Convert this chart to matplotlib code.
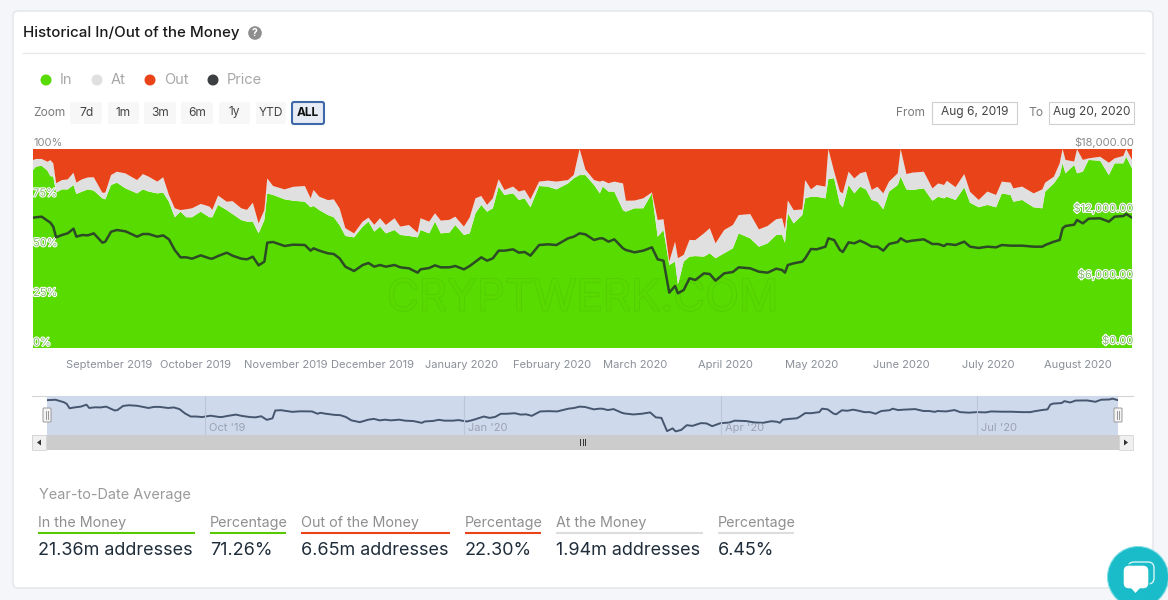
import numpy as np
import pandas as pd
import matplotlib
matplotlib.use("Agg")
import matplotlib.pyplot as plt
import matplotlib.patheffects as pe
from matplotlib.patches import FancyBboxPatch, Rectangle, Circle, Polygon

plt.rcParams['font.family'] = ['Inter', 'DejaVu Sans']

start_date = "2019-08-06"
end_date = "2020-08-20"
days = [0,1,3,5,6,7,8,10,12,14,15,17,19,21,24,25,27,29,32,36,38,40,43,45,47,49,51,53,55,58,61,62,64,67,69,72,74,76,78,80,81,83,87,90,94,96,97,99,102,104,106,108,111,114,116,118,120,122,125,
        127,130,133,134,137,139,141,144,146,149,151,153,155,157,159,161,163,166,168,170,172,175,178,181,185,187,189,191,194,196,197,199,201,204,205,208,211,214,216,218,220,222,223,225,227,229,232,234,236,239,242,244,248,251,254,
        257,259,260,261,263,266,267,269,271,274,275,277,279,280,282,284,286,288,290,292,294,296,299,300,302,304,308,311,313,315,316,319,322,324,327,330,333,335,338,339,342,346,349,350,353,355,356,357,360,361,363,365,369,372,374,377,378,380]
in_pct = [89.4,91.1,91.6,89.1,86.4,86.1,78.1,79.7,79.7,81.9,77.4,78.6,79.7,79.1,75.2,74.7,81.9,83.1,80.2,77.7,79.7,78.6,77.7,78.1,73.5,65.7,68.5,65.7,65.7,68.5,65.7,65.7,71.9,69.3,67.3,64.3,63.5,63.5,57.6,64.3,77.7,76.9,74.7,74.0,73.5,70.7,71.4,69.3,66.8,65.7,61.8,56.3,55.6,61.0,63.5,58.5,61.0,57.6,59.3,
          56.8,56.3,55.6,59.3,57.6,63.5,57.6,58.0,61.8,56.8,57.6,67.7,71.9,68.5,70.2,81.1,76.9,77.7,74.4,75.2,70.7,81.4,81.1,79.7,82.7,85.3,86.9,86.9,81.9,77.7,81.1,78.6,78.6,69.3,68.5,70.2,70.2,77.7,55.9,59.3,41.7,43.4,31.7,43.4,45.9,46.2,45.9,47.6,45.1,47.6,50.1,57.6,55.1,50.9,52.6,
          56.8,56.8,52.9,67.7,62.6,66.8,75.2,76.0,76.0,75.2,84.8,85.3,72.4,70.7,81.9,77.7,81.1,79.7,74.4,73.5,69.7,78.6,81.9,86.1,79.7,79.4,80.2,74.0,76.0,75.2,76.0,74.4,80.7,73.0,70.7,71.9,70.7,77.7,76.9,73.5,74.4,70.7,70.2,78.6,82.7,86.9,92.8,87.8,92.0,87.8,88.6,94.5,94.1,86.9,92.8,92.8,96.1,90.3]
at_pct = [5.0,3.9,3.4,4.5,8.0,6.7,4.7,4.7,5.0,6.2,5.7,6.2,6.0,6.7,2.8,3.4,5.0,5.5,7.5,6.7,7.7,7.5,5.9,7.7,3.4,4.5,0.8,4.0,4.5,3.9,5.4,3.7,4.7,4.2,6.5,5.9,5.9,9.5,5.0,5.0,7.5,4.5,5.0,7.0,7.9,4.5,8.0,6.7,7.5,9.0,8.4,3.9,2.0,2.5,2.0,3.4,4.2,4.2,5.9,
          4.2,5.5,2.3,5.9,5.9,4.2,6.4,6.4,4.2,4.2,8.0,7.5,4.5,3.4,5.0,3.7,2.5,3.4,4.2,4.2,4.0,2.2,3.0,3.9,1.7,1.7,13.1,2.8,2.5,5.9,3.0,4.2,5.0,13.4,5.5,3.9,5.0,0.5,8.4,5.4,1.7,10.0,13.4,3.4,8.4,8.0,11.7,12.6,7.5,11.7,11.7,9.2,12.2,8.7,8.7,
          7.9,8.4,6.7,6.4,6.7,2.8,9.2,3.7,5.9,5.9,15.2,3.4,6.2,7.0,6.7,7.5,6.7,8.9,5.0,7.5,8.0,5.0,5.9,13.9,7.7,8.7,8.4,6.2,6.7,6.7,8.0,6.4,6.7,5.5,3.7,6.7,6.2,5.9,6.2,6.7,6.7,7.0,9.5,4.5,3.4,5.9,7.2,6.7,1.7,12.1,5.9,0.8,2.0,6.2,2.5,3.7,3.9,4.2]
price = [11789,11819,11879,11517,11336,10975,10010,10221,10372,10794,10070,10221,10191,10372,9527,9618,10522,10673,10553,10070,10311,10311,10070,10191,9829,8864,8201,8201,8080,8382,8110,8080,8321,8623,8352,8080,8020,8261,7477,7809,9527,9588,9226,9347,9316,8804,9015,8804,8563,8502,8110,7357,6965,7507,7688,7357,7507,7357,7507,
         7296,7206,6814,7115,7236,7477,7296,7296,7417,7115,7417,7809,8201,7899,8110,8804,8804,8924,8623,8683,8352,9316,9377,9316,9919,10070,10372,10281,9769,9919,9919,9618,9829,9015,8864,8653,8804,9105,8020,7899,5005,5608,4945,5246,6301,6151,6754,6693,6090,6754,6874,7296,7206,6904,6814,
         7176,7055,6814,7507,7658,7809,8110,8955,8924,9166,9919,9769,8864,8683,9558,9467,9708,9467,9166,9166,8804,9407,9588,9919,9618,9708,9829,9407,9407,9226,9407,9316,9618,9166,9045,9166,9105,9316,9256,9256,9256,9166,9166,9316,9618,9769,10824,11035,11155,11578,11276,11698,11728,11427,11879,11939,12120,11789]
month_ticks = ["2019-09-01","2019-10-01","2019-11-01","2019-12-01","2020-01-01","2020-02-01","2020-03-01","2020-04-01","2020-05-01","2020-06-01","2020-07-01","2020-08-01"]
month_labels = ["September 2019","October 2019","November 2019","December 2019","January 2020","February 2020","March 2020","April 2020","May 2020","June 2020","July 2020","August 2020"]
pct_ticks = [0, 25, 50, 75, 100]
usd_ticks = [0, 6000, 12000, 18000]
nav_ticks = ["2019-10-01","2020-01-01","2020-04-01","2020-07-01"]
nav_labels = ["Oct '19","Jan '20","Apr '20","Jul '20"]
stat_heads = ["In the Money","Percentage","Out of the Money","Percentage","At the Money","Percentage"]
stat_vals = ["21.36m addresses","71.26%","6.65m addresses","22.30%","1.94m addresses","6.45%"]

W, H = 1168, 600
GREEN, GREY, RED, DARK = "#58db00", "#e0e0e0", "#e9431a", "#3c4043"
t0 = pd.Timestamp(start_date)
dates = t0 + pd.to_timedelta(days, unit="D")
t1 = pd.Timestamp(end_date)
in_a = np.array(in_pct)
at_a = np.array(at_pct)

fig = plt.figure(figsize=(W/100, H/100), dpi=100, facecolor="#f4f6fa")

def axpx(x0, y0, x1, y1, **kw):
    return fig.add_axes([x0/W, 1-y1/H, (x1-x0)/W, (y1-y0)/H], **kw)

ui = axpx(0, 0, W, H)
ui.set_xlim(0, W); ui.set_ylim(H, 0); ui.axis("off")

ui.add_patch(FancyBboxPatch((13, 11), 1140, 577, boxstyle="round,pad=0,rounding_size=5",
                            fc="white", ec="#e2e4e8", lw=1))
ui.text(23, 32.5, "Historical In/Out of the Money", fontsize=10.85, color="#1a1a1a", va="center", fontweight="medium")
ui.add_patch(Circle((255, 33), 6.8, fc="#8e8e8e", ec="none"))
ui.text(255, 33, "?", fontsize=7.5, color="white", ha="center", va="center", fontweight="bold")
ui.plot([23, 1144], [53, 53], color="#e8e8e8", lw=1)

for cx, tx, name, col in [(46, 60, "In", GREEN), (97, 111, "At", GREY), (150, 164, "Out", RED), (213, 227, "Price", DARK)]:
    ui.add_patch(Circle((cx, 80), 5.5, fc=col, ec="none"))
    ui.text(tx, 80, name, fontsize=10.5, color="#a8a8a8", va="center")

ui.text(33, 113.5, "Zoom", fontsize=8.6, color="#7a7a7a", va="center")
for x0, x1, lab in [(70,102,"7d"),(108,139,"1m"),(144,176,"3m"),(181,213,"6m"),(219,250,"1y"),(256,286,"YTD")]:
    ui.add_patch(FancyBboxPatch((x0, 102), x1-x0, 22, boxstyle="round,pad=0,rounding_size=2", fc="#f7f7f7", ec="none"))
    ui.text((x0+x1)/2, 112.5, lab, fontsize=8.6, color="#444444", ha="center", va="center")
ui.add_patch(FancyBboxPatch((292, 102), 32, 22, boxstyle="round,pad=0,rounding_size=2", fc="#e6ebf5", ec="#3f68a8", lw=1.5))
ui.text(308, 112.5, "ALL", fontsize=8.6, color="#111111", ha="center", va="center", fontweight="bold")

ui.text(896, 112.5, "From", fontsize=8.6, color="#7a7a7a", va="center")
ui.text(1028, 112.5, "To", fontsize=8.6, color="#7a7a7a", va="center")
for x0, x1, lab in [(932, 1017, "Aug 6, 2019"), (1049, 1134, "Aug 20, 2020")]:
    ui.add_patch(Rectangle((x0, 102), x1-x0, 22, fc="white", ec="#cfcfcf", lw=0.8))
    ui.text((x0+x1)/2, 112.5, lab, fontsize=8.6, color="#444444", ha="center", va="center")

# Main chart
ax = axpx(33, 149, 1132, 348)
ax.stackplot(dates, in_a, at_a, 100-in_a-at_a, colors=[GREEN, GREY, RED], lw=0)
ax.set_xlim(t0, t1); ax.set_ylim(0, 100)
for s in ax.spines.values():
    s.set_visible(False)
ax.set_yticks([])
ax.set_xticks(pd.to_datetime(month_ticks) + pd.Timedelta(hours=8))
ax.set_xticklabels(month_labels, fontsize=8, color="#8a8f98")
ax.tick_params(axis="x", length=0, pad=8.3)
ax.text(0.5, 0.245, "CRYPTWERK.COM", transform=ax.transAxes, ha="center", va="center", fontsize=31.6,
        color=(0.345, 0.855, 0.0, 1), path_effects=[pe.withStroke(linewidth=1, foreground="#50cc02")])
stroke = [pe.withStroke(linewidth=1.5, foreground="white")]
LABEL_FILL = "#86b873"
for v in pct_ticks:
    if v == 100:
        ui.text(33, 143, "100%", fontsize=8, color="#8a8a8a", va="center")
    else:
        ax.annotate(f"{v}%", xy=(0, v), xycoords=("axes fraction", "data"), xytext=(0, 3.8), textcoords="offset points",
                    fontsize=8, color=LABEL_FILL, va="center", path_effects=stroke, zorder=6)

ax2 = ax.twinx()
ax2.plot(dates, price, color="#2c4a26", lw=1.8, solid_joinstyle="round")
ax2.set_ylim(0, 18000)
ax2.set_yticks([])
for s in ax2.spines.values():
    s.set_visible(False)
for v in usd_ticks:
    if v == 18000:
        ui.text(1134, 142, f"${v:,.2f}", fontsize=8, color="#8a8a8a", va="center", ha="right")
    else:
        ax2.annotate(f"${v:,.2f}", xy=(1, v), xycoords=("axes fraction", "data"), xytext=(1, 5), textcoords="offset points",
                     fontsize=8, color=LABEL_FILL, va="center", ha="right", path_effects=stroke, zorder=6,
                     annotation_clip=False)

# Navigator
nav = axpx(47, 396, 1118, 435)
nav.set_facecolor("#cfd9ec")
nav.plot(dates, price, color="#46566f", lw=1.4)
nav.set_xlim(t0, t1); nav.set_ylim(4150, 12700)
nav.set_yticks([])
nav.tick_params(left=False, bottom=False, labelbottom=False)
for s in nav.spines.values():
    s.set_visible(False)
for d, lab in zip(pd.to_datetime(nav_ticks), nav_labels):
    nav.axvline(d, color="#bcc6d8", lw=0.8)
    nav.annotate(lab, xy=(d, 0), xycoords=("data", "axes fraction"), xytext=(3, 5), textcoords="offset points",
                 fontsize=8, color="#9aa3b2", va="center")

ui.plot([32, 1133], [395.5, 395.5], color="#d5d5d5", lw=0.8)
ui.add_patch(Rectangle((32, 435), 1101, 15, fc="#cccccc", ec="none"))
for x0 in (32, 1119):
    ui.add_patch(Rectangle((x0, 435), 14, 15, fc="#f0f0f0", ec="#d5d5d5", lw=0.6))
ui.add_patch(Polygon([[37, 442.5], [41, 439.5], [41, 445.5]], fc="#333333", ec="none"))
ui.add_patch(Polygon([[1128, 442.5], [1124, 439.5], [1124, 445.5]], fc="#333333", ec="none"))
for x in (580, 582.5, 585):
    ui.plot([x, x], [439, 445], color="#333333", lw=0.7)
ui.set_zorder(0); ax.set_zorder(1); ax2.set_zorder(2); nav.set_zorder(1)

# Navigator handles sit above the navigator axes
top = axpx(0, 0, W, H)
top.set_xlim(0, W); top.set_ylim(H, 0); top.axis("off"); top.set_zorder(3); top.patch.set_alpha(0)
for cx in (47, 1118):
    top.add_patch(FancyBboxPatch((cx-4, 408), 8, 14, boxstyle="round,pad=0,rounding_size=1", fc="#f4f4f4", ec="#999999", lw=0.7))
    top.plot([cx-1, cx-1], [411, 419], color="#888888", lw=0.6)
    top.plot([cx+1, cx+1], [411, 419], color="#888888", lw=0.6)

# Summary block
ui.text(39, 494.5, "Year-to-Date Average", fontsize=10.4, color="#9a9a9a", va="center")
cols = [(38,195,"#58c800"),(210,286,"#58c800"),(301,450,"#e9431a"),(465,541,"#e9431a"),(556,703,"#dddddd"),(718,794,"#dddddd")]
for (x0, x1, c), h, v in zip(cols, stat_heads, stat_vals):
    ui.text(x0, 522.5, h, fontsize=10.3, color="#8f8f8f", va="center")
    ui.plot([x0, x1], [533, 533], color=c, lw=1.5, solid_capstyle="butt")
    ui.text(x0, 550.5, v, fontsize=12.95, color="#1f2d3a", va="center")

# Chat bubble
ui.add_patch(Circle((1138, 577), 30.5, fc="#19bcc8", ec="#7fdde4", lw=0.8))
ui.add_patch(FancyBboxPatch((1128, 562), 26, 22, boxstyle="round,pad=0,rounding_size=6", fc="none", ec="#d8f4f6", lw=1))
ui.add_patch(FancyBboxPatch((1123, 565), 26, 24, boxstyle="round,pad=0,rounding_size=6", fc="white", ec="#19bcc8", lw=1))
ui.add_patch(Polygon([[1131, 588], [1140, 588], [1135.5, 593]], fc="white", ec="none"))

fig.savefig("out.png", dpi=100, facecolor=fig.get_facecolor())
